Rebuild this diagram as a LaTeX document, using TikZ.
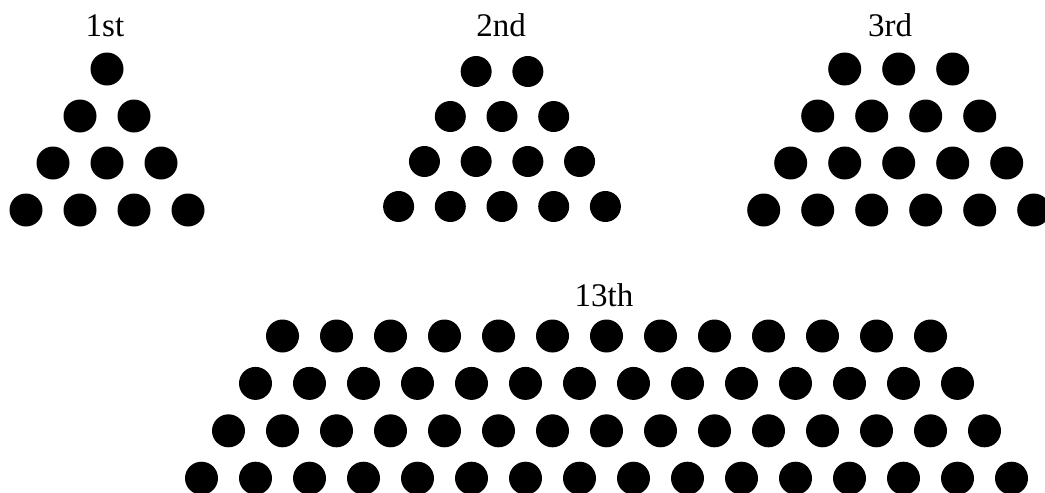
\documentclass[tikz,border=0pt]{standalone}
\usepackage{fontspec}
\setmainfont{Liberation Serif}
\tikzset{
    % Dots
    dotA/.style={circle, fill=black, inner sep=0pt, minimum size=16.5pt},
    dotB/.style={dotA, minimum size=15.5pt},
    % Labels
    lbl/.style={font=\fontsize{16.5}{18}\selectfont, inner sep=0pt, anchor=base}
}
\begin{document}
\begin{tikzpicture}[x=0.5pt, y=-0.5pt]
\useasboundingbox (0,0) rectangle (1045,493);

% 1st
\node[lbl] (lab1) at (105,36) {1st};
\foreach \r in {0,...,3} {
  \pgfmathtruncatemacro{\k}{1+\r}
  \foreach \c in {1,...,\k} {
    \node[dotA] (a-\r-\c) at ({107+54*(\c-1)-27*\r}, {69+47*\r}) {};
  }
}

% 2nd
\node[lbl] (lab2) at (501,36) {2nd};
\foreach \r in {0,...,3} {
  \pgfmathtruncatemacro{\k}{2+\r}
  \foreach \c in {1,...,\k} {
    \node[dotB] (b-\r-\c) at ({502+51.7*(\c-1)-25.85*(1+\r)}, {71.5+45*\r}) {};
  }
}

% 3rd
\node[lbl] (lab3) at (890,36) {3rd};
\foreach \r in {0,...,3} {
  \pgfmathtruncatemacro{\k}{3+\r}
  \foreach \c in {1,...,\k} {
    \node[dotA] (c-\r-\c) at ({898.7+54*(\c-1)-27*(2+\r)}, {69+47*\r}) {};
  }
}

% 13th
\node[lbl] (lab13) at (604,306.5) {13th};
\foreach \r in {0,...,3} {
  \pgfmathtruncatemacro{\k}{13+\r}
  \foreach \c in {1,...,\k} {
    \node[dotA] (m-\r-\c) at ({606.5+54*(\c-1)-27*(12+\r)}, {336+47.4*\r}) {};
  }
}

\end{tikzpicture}
\end{document}
